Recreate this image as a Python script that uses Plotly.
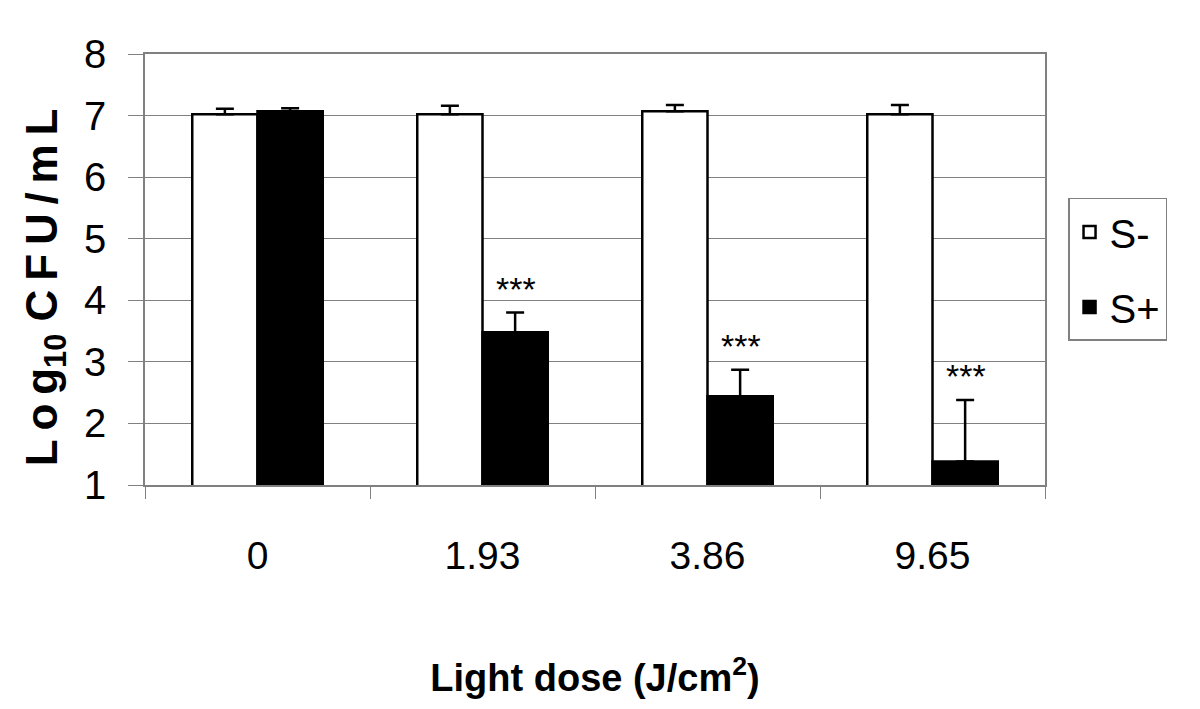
import plotly.graph_objects as go

doses = ["0", "1.93", "3.86", "9.65"]
s_minus = [7.02, 7.02, 7.07, 7.02]
s_minus_err = [0.09, 0.14, 0.10, 0.15]
s_plus = [7.07, 3.48, 2.44, 1.38]
s_plus_err = [0.05, 0.32, 0.43, 1.00]
signif = ["", "***", "***", "***"]

FONT = "Liberation Sans, Arial, sans-serif"

fig = go.Figure()
fig.add_trace(go.Bar(
    x=doses, y=s_minus, name="S-", legendgroup="neg",
    marker=dict(color="white", line=dict(color="black", width=2.5)),
    error_y=dict(type="data", array=s_minus_err, arrayminus=[0] * 4,
                 color="black", thickness=2.5, width=9),
))
fig.add_trace(go.Bar(
    x=doses, y=s_plus, name="S+", legendgroup="pos",
    marker=dict(color="black", line=dict(color="black", width=2.5)),
    error_y=dict(type="data", array=s_plus_err, arrayminus=[0] * 4,
                 color="black", thickness=2.5, width=9),
))

# category axis: annotations are placed by category index
for i, (v, e, s) in enumerate(zip(s_plus, s_plus_err, signif)):
    if s:
        fig.add_annotation(x=i, y=v + e, text=s, showarrow=False, xshift=33,
                           yanchor="bottom", yshift=3,
                           font=dict(size=34, color="black", family=FONT))

T = "\u2009"
ytitle = f"<b>L{T}o{T}g<sub>10</sub> C{T}F{T}U{T}/{T}m{T}L</b>"
fig.add_annotation(
    xref="paper", yref="paper", x=-0.111, y=0.457, xanchor="center",
    yanchor="middle", textangle=-90,
    text=ytitle, showarrow=False,
    font=dict(size=44, color="black", family=FONT),
)

# the page body adds an 8px offset, margins below compensate for it
fig.update_layout(
    width=1200, height=709,
    margin=dict(l=137, r=163, t=46, b=232),
    plot_bgcolor="white", paper_bgcolor="white",
    barmode="group", bargap=0.42, bargroupgap=0,
    font=dict(family=FONT, color="black"),
    legend=dict(x=1.0256, y=0.666, xanchor="left", yanchor="top",
                bgcolor="white", bordercolor="#808080", borderwidth=1.5,
                tracegroupgap=20, entrywidth=82, entrywidthmode="pixels",
                font=dict(size=40, family=FONT)),
    xaxis=dict(
        type="category", range=[-0.5, 3.5], automargin=False,
        showline=True, linecolor="#808080", linewidth=1.5, mirror=True,
        ticks="outside", tickson="boundaries", ticklen=12, tickcolor="#808080",
        tickfont=dict(size=39), tickangle=0, ticklabelstandoff=35,
        title=dict(text="<b>Light dose (J/cm<sup>2</sup>)</b>",
                   font=dict(size=38), standoff=89),
    ),
    yaxis=dict(
        range=[1, 8], dtick=1, automargin=False,
        showline=True, linecolor="#808080", linewidth=1.5,
        mirror=True, ticks="outside", ticklen=15, tickcolor="#808080",
        showgrid=True, gridcolor="#808080", gridwidth=1, zeroline=False,
        tickfont=dict(size=40), ticklabelstandoff=14,
    ),
)

fig.write_html("out.html")
